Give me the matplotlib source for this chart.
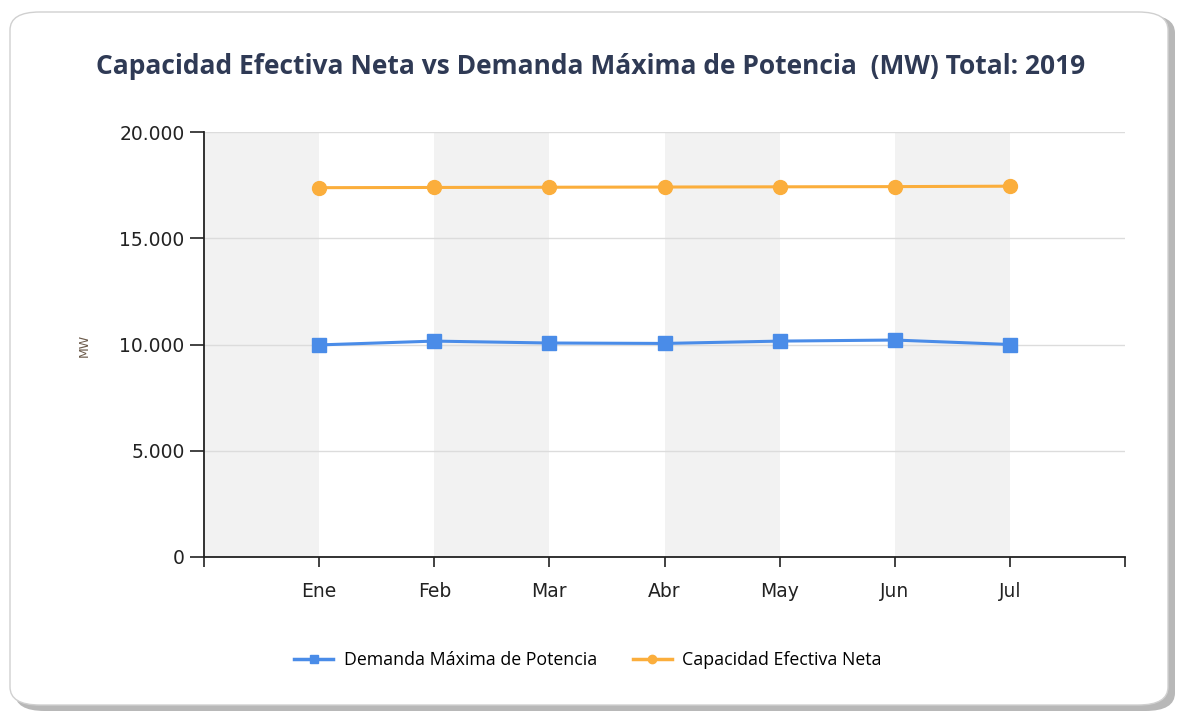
import matplotlib
matplotlib.use("Agg")
import matplotlib.pyplot as plt
from matplotlib.patches import FancyBboxPatch
from matplotlib.lines import Line2D

months = ["Ene", "Feb", "Mar", "Abr", "May", "Jun", "Jul"]
demanda = [9980, 10160, 10070, 10050, 10160, 10210, 10000]
capacidad = [17380, 17390, 17400, 17410, 17420, 17430, 17450]
yticks = [0, 5000, 10000, 15000, 20000]
ytick_labels = ["0", "5.000", "10.000", "15.000", "20.000"]

W, H = 1189, 719
fig = plt.figure(figsize=(W / 100, H / 100), dpi=100)
fig.patch.set_facecolor("white")

def fx(px): return px / W
def fy(py): return 1 - py / H

shadow = FancyBboxPatch((fx(15), fy(711)), fx(1160), 696 / H,
                        boxstyle="round,pad=0,rounding_size=0.025", transform=fig.transFigure,
                        facecolor="#b8b8b8", edgecolor="none", zorder=0)
fig.patches.append(shadow)
card = FancyBboxPatch((fx(10), fy(705)), fx(1158), 693 / H,
                      boxstyle="round,pad=0,rounding_size=0.025", transform=fig.transFigure,
                      facecolor="white", edgecolor="#d0d0d0", linewidth=1.0, zorder=1)
fig.patches.append(card)

ax = fig.add_axes([fx(204), fy(557), fx(1125 - 204), (557 - 132) / H])
ax.set_zorder(2)
ax.patch.set_alpha(0)

x = list(range(1, len(months) + 1))
ax.set_xlim(0, len(months) + 1)
ax.set_ylim(0, 20000)

for i in range(0, len(months) + 1, 2):
    ax.axvspan(i, i + 1, color="#f2f2f2", zorder=0, lw=0)

ax.set_yticks(yticks)
ax.set_yticklabels(ytick_labels, fontsize=13.5, family="DejaVu Sans", color="#222222")
ax.yaxis.grid(True, color="#dcdcdc", lw=1, zorder=1)
ax.set_axisbelow(True)

ax.set_xticks(range(0, len(months) + 2))
ax.set_xticklabels([""] + months + [""], fontsize=13.5, family="DejaVu Sans", color="#222222")
ax.tick_params(axis="x", length=7, width=1.2, color="#222222", pad=11)
ax.tick_params(axis="y", length=10, width=1.2, color="#222222", pad=4)

for s in ["top", "right"]:
    ax.spines[s].set_visible(False)
for s in ["left", "bottom"]:
    ax.spines[s].set_color("#222222")
    ax.spines[s].set_linewidth(1.3)

blue = "#4a8ce8"
orange = "#fbae3c"
ax.plot(x, demanda, color=blue, lw=2.2, marker="s", ms=10, zorder=3)
ax.plot(x, capacidad, color=orange, lw=2.2, marker="o", ms=10, zorder=3)

fig.text(fx(84), fy(345), "MW", rotation=90, ha="center", va="center", fontsize=9,
         color="#6b5a4a")

fig.text(fx(591), fy(66), "Capacidad Efectiva Neta vs Demanda Máxima de Potencia  (MW) Total: 2019",
         ha="center", va="center", fontsize=19, fontweight="bold", color="#2f3a55",
         family="Open Sans")

handles = [Line2D([], [], color=blue, lw=2.5, marker="s", ms=6),
           Line2D([], [], color=orange, lw=2.5, marker="o", ms=6)]
fig.legend(handles, ["Demanda Máxima de Potencia", "Capacidad Efectiva Neta"],
           loc="center", bbox_to_anchor=(fx(588), fy(660)), ncol=2, frameon=False,
           handlelength=2.2, columnspacing=2.0, handletextpad=0.6,
           prop={"family": "Open Sans", "size": 12.8})

fig.savefig("out.png", dpi=100)
